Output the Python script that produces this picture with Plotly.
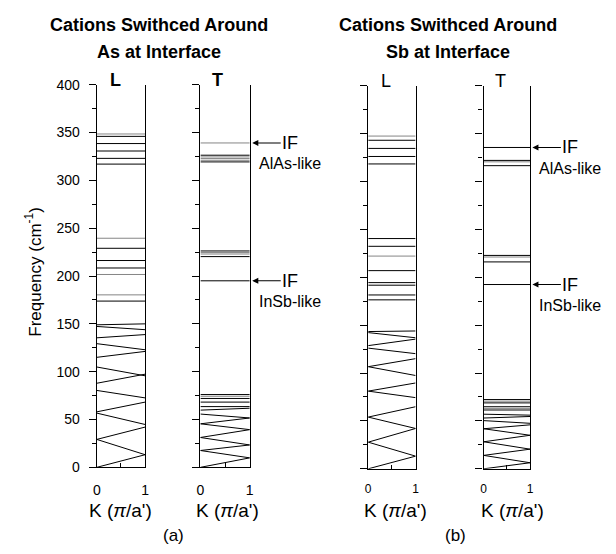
import plotly.graph_objects as go

# ---------------- data (frequencies in cm^-1) ----------------
K_ENDS = [0, 1]                 # wave-vector range in units of pi/a'
Y_TICKS = [0, 50, 100, 150, 200, 250, 300, 350, 400]
X_TICKS = [0, 1]
X_MINOR_TICKS = [0.5]

# (a) As at interface, L modes: band value at K=0 and at K=1
as_L_start = [346.0, 338.5, 330.7, 323.0, 317.0, 229.0, 216.2, 208.4, 173.8,
              0.0, 29.2, 29.2, 56.7, 58.0, 80.4, 87.9, 104.9, 115.0, 129.3, 135.4, 147.3, 149.0]
as_L_end = [346.0, 338.5, 330.7, 323.0, 317.0, 229.0, 216.2, 208.4, 173.8,
            13.2, 13.2, 42.1, 44.8, 68.2, 72.6, 97.4, 95.7, 121.2, 122.9, 138.8, 143.9, 150.0]
as_L_faint = [348.5, 239.5, 201.6, 180.3]

# (a) As at interface, T modes
as_T_start = [326.3, 319.3, 226.2, 220.3, 195.0, 76.1, 72.0, 68.2, 63.5,
              0.0, 17.6, 17.6, 31.2, 31.2, 45.5, 45.5, 55.7, 59.8]
as_T_end = [326.3, 319.3, 226.2, 220.3, 195.0, 76.1, 72.0, 68.2, 63.5,
            9.9, 9.9, 23.4, 23.4, 39.4, 39.4, 51.6, 51.6, 61.8]
as_T_faint = [339.1, 324.5, 322.8, 321.0, 224.5, 223.0, 74.3]

# (b) Sb at interface, L modes
sb_L_start = [343.0, 334.5, 326.1, 318.3, 240.4, 232.3, 206.9, 194.4, 191.7, 181.5, 176.4,
              0.0, 27.8, 27.8, 54.0, 54.0, 81.1, 81.1, 106.6, 106.6, 126.0, 128.6, 142.2, 143.3]
sb_L_end = [343.0, 334.5, 326.1, 318.3, 240.4, 232.3, 206.9, 194.4, 191.7, 181.5, 176.4,
            13.2, 13.2, 42.1, 42.1, 64.8, 74.3, 89.6, 97.4, 115.0, 120.2, 135.4, 136.8, 143.9]
sb_L_faint = [347.4, 222.1]

# (b) Sb at interface, T modes
sb_T_start = [335.5, 322.0, 316.5, 222.8, 216.0, 192.4, 72.3, 68.8, 64.8, 61.4,
              0.0, 14.0, 14.0, 28.2, 28.2, 41.8, 41.8, 50.3, 53.0, 57.0]
sb_T_end = [335.5, 322.0, 316.5, 222.8, 216.0, 192.4, 72.3, 68.8, 64.8, 61.4,
            6.3, 6.3, 20.5, 20.5, 35.0, 35.0, 45.9, 47.5, 54.6, 56.0]
sb_T_faint = [320.5, 221.1, 70.6, 63.1]

# interface-mode markers: (panel index, frequency, label)
if_marks = [(2, 339.1, "AlAs-like"), (2, 195.0, "InSb-like"),
            (4, 335.5, "AlAs-like"), (4, 192.4, "InSb-like")]

panels = [
    (as_L_start, as_L_end, as_L_faint),
    (as_T_start, as_T_end, as_T_faint),
    (sb_L_start, sb_L_end, sb_L_faint),
    (sb_T_start, sb_T_end, sb_T_faint),
]

# ---------------- layout geometry (pixels) ----------------
W, H = 616, 554
FONT = "Liberation Sans, Arial, sans-serif"
x_px = [(94, 143), (199, 249), (369, 417), (486, 533)]
y_px = [(79, 473), (79, 473), (80, 474.5), (80, 474.5)]


def px(x):
    return x / W


def py(y):
    return 1 - y / H


fig = go.Figure()

for i, (s, e, faint) in enumerate(panels, start=1):
    xr = "x" if i == 1 else f"x{i}"
    yr = "y" if i == 1 else f"y{i}"
    xs, ys = [], []
    for a, b in zip(s, e):
        xs += [K_ENDS[0], K_ENDS[1], None]
        ys += [a, b, None]
    fig.add_trace(go.Scatter(x=xs, y=ys, mode="lines", xaxis=xr, yaxis=yr,
                             line=dict(color="black", width=1),
                             showlegend=False, hoverinfo="skip"))
    fx, fy = [], []
    for f in faint:
        fx += [K_ENDS[0], K_ENDS[1], None]
        fy += [f, f, None]
    fig.add_trace(go.Scatter(x=fx, y=fy, mode="lines", xaxis=xr, yaxis=yr,
                             line=dict(color="#666666", width=0.8),
                             showlegend=False, hoverinfo="skip"))

layout = dict(width=W, height=H, margin=dict(l=0, r=0, t=0, b=0),
              paper_bgcolor="white", plot_bgcolor="white",
              font=dict(family=FONT, color="black"), showlegend=False)

for i in range(1, 5):
    sfx = "" if i == 1 else str(i)
    x0, x1 = x_px[i - 1]
    yt, yb = y_px[i - 1]
    tick_size = 14 if i <= 2 else 12
    layout["xaxis" + sfx] = dict(
        domain=[px(x0), px(x1)], anchor="y" + sfx, range=[0, 1],
        showline=True, linecolor="black", linewidth=1.4, mirror=False,
        ticks="inside", ticklen=4, tickwidth=1.2, tickcolor="black",
        tickvals=X_TICKS, ticklabelstandoff=10 if i <= 2 else 9,
        tickfont=dict(size=tick_size, family=FONT),
        minor=dict(tickvals=X_MINOR_TICKS, ticks="inside", ticklen=4,
                   tickwidth=1.2, tickcolor="black", showgrid=False),
        showgrid=False, zeroline=False, fixedrange=True)
    layout["yaxis" + sfx] = dict(
        domain=[py(yb), py(yt)], anchor="x" + sfx, range=[0, 400],
        showline=True, linecolor="black", linewidth=1.4, mirror=True,
        ticks="outside", ticklen=7, tickwidth=1.3, tickcolor="black",
        tickvals=Y_TICKS, showticklabels=(i == 1), ticklabelstandoff=6,
        tickfont=dict(size=14, family=FONT),
        minor=dict(dtick=25, tick0=0, ticks="outside", ticklen=4,
                   tickwidth=1, tickcolor="black", showgrid=False),
        showgrid=False, zeroline=False, fixedrange=True)

anns = []


def label(text, x, y, size, angle=0):
    anns.append(dict(text=text, x=px(x), y=py(y), xref="paper", yref="paper",
                     showarrow=False, xanchor="center", yanchor="middle",
                     textangle=angle, font=dict(size=size, family=FONT, color="black")))


label("<b>Cations Swithced Around</b>", 157.5, 18, 18)
label("<b>As at Interface</b>", 157.5, 45, 18)
label("<b>Cations Swithced Around</b>", 450, 18, 18)
label("<b>Sb at Interface</b>", 450, 45, 18)
label("<b>L</b>", 113, 74, 18)
label("<b>T</b>", 216, 74, 18)
label("L", 387, 75, 18)
label("T", 503, 75, 18)
for cx in (118, 226, 397, 515):
    label("K (<i>π</i>/a')", cx, 517, 19)
label("(a)", 172, 543, 17)
label("(b)", 457, 543, 17)
label("Frequency (cm<sup>-1</sup>)", 30, 272, 17, angle=-90)

for idx, freq, txt in if_marks:
    sfx = "" if idx == 1 else str(idx)
    anns.append(dict(text="IF", x=1.05, y=freq, xref=f"x{sfx} domain", yref=f"y{sfx}",
                     showarrow=True, ax=38, ay=0, axref="pixel", ayref="pixel",
                     arrowhead=2, arrowsize=1.1, arrowwidth=1.1, arrowcolor="black",
                     font=dict(size=18, family=FONT, color="black")))
    anns.append(dict(text=txt, x=1.0, y=freq, xref=f"x{sfx} domain", yref=f"y{sfx}",
                     showarrow=True, arrowcolor="rgba(0,0,0,0)", ax=40, ay=21,
                     axref="pixel", ayref="pixel",
                     font=dict(size=16, family=FONT, color="black")))

layout["annotations"] = anns
fig.update_layout(**layout)
fig.write_html("out.html")
